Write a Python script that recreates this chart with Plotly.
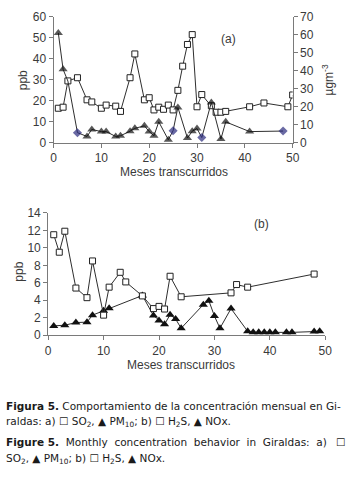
import plotly.graph_objects as go

# ---------------- data ----------------
# (a) SO2 (ppb, left axis) and PM10 (ug/m3, right axis)
a_so2_months = [1, 2, 3, 5, 7, 8, 10, 11, 13, 14, 16, 17, 19, 20, 21, 22, 23, 24, 25, 26,
                27, 28, 29, 30, 31, 33, 34, 35, 36, 41, 44, 49, 50]
a_so2_ppb = [16.5, 17, 29.5, 31, 20.5, 19.5, 16.5, 18, 17.5, 15, 31, 42.3, 20.5, 21.5, 15.7, 17,
             16, 18, 15.7, 25, 36.5, 46.8, 51.5, 17.2, 23, 17.7, 14.6, 14.6, 15, 17.2, 19, 17.2, 22.8]

a_pm10_months = [1, 2, 3, 5, 7, 8, 10, 11, 13, 14, 16, 17, 19, 20, 21, 22, 24, 25, 26, 28,
                 29, 30, 31, 33, 35, 36, 41, 48]
a_pm10_ugm3 = [61, 40.8, 34.3, 5.7, 3.6, 7.5, 6.3, 6.3, 3.6, 4, 6.5, 8.1, 9.5, 6.3, 4, 11.7,
               1.8, 6.8, 19.7, 2.7, 6.5, 8, 3, 22.5, 2.2, 11.7, 6.3, 6.6]
# t = triangle, d = diamond, h = hidden under a square
a_pm10_kind = ["t", "t", "h", "d", "t", "t", "t", "t", "t", "t", "t", "t", "t", "t", "t", "t",
               "t", "d", "t", "t", "t", "t", "d", "t", "t", "t", "t", "d"]

# (b) H2S and NOx (ppb)
b_h2s_months = [1, 2, 3, 5, 7, 8, 10, 11, 13, 14, 17, 19, 20, 21, 22, 24, 33, 34, 36, 48]
b_h2s_ppb = [11.5, 9.5, 11.9, 5.4, 4.3, 8.5, 2.3, 5.5, 7.2, 6.1, 4.5, 3.05, 3.3, 3.0, 6.75,
             4.4, 4.85, 5.8, 5.5, 7.0]
b_nox_months = [1, 3, 5, 7, 8, 10, 11, 17, 19, 20, 21, 22, 23, 24, 28, 29, 30, 31, 33, 36,
                37, 38, 39, 40, 41, 43, 44, 48, 49]
b_nox_ppb = [1.07, 1.15, 1.45, 1.5, 2.3, 2.8, 3.1, 4.55, 2.25, 1.7, 1.25, 2.35, 1.85, 0.8, 3.5,
             3.95, 2.2, 0.8, 3.05, 0.45, 0.33, 0.33, 0.33, 0.33, 0.33, 0.35, 0.33, 0.42, 0.45]

x_ticks = [0, 10, 20, 30, 40, 50]

# ---------------- style ----------------
W, H = 357, 485
TXT = "#3a3a3a"
AX = "#7a7a7a"
LINE = "#2e2e2e"
NAVY = "#2b2b7e"
FONT = "Liberation Sans, Arial, sans-serif"


def px(x):
    return x / W


def py(y):
    return 1 - y / H


sym = {"t": "triangle-up", "d": "diamond", "h": "triangle-up"}
col = {"t": "#111111", "d": NAVY, "h": "#111111"}
siz = {"t": 8, "d": 7, "h": 0}

fig = go.Figure()

# (a) PM10 triangles (right axis)
fig.add_trace(go.Scatter(
    x=a_pm10_months, y=a_pm10_ugm3, xaxis="x", yaxis="y2", mode="lines+markers",
    line=dict(color=LINE, width=1),
    marker=dict(symbol=[sym[k] for k in a_pm10_kind], color=[col[k] for k in a_pm10_kind],
                size=[siz[k] for k in a_pm10_kind], line=dict(width=0)),
    showlegend=False))
# (a) SO2 squares (left axis)
fig.add_trace(go.Scatter(
    x=a_so2_months, y=a_so2_ppb, xaxis="x", yaxis="y", mode="lines+markers",
    line=dict(color=LINE, width=1),
    marker=dict(symbol="square", size=6, color="white", line=dict(color="#222222", width=1)),
    showlegend=False))

# (b) NOx triangles
fig.add_trace(go.Scatter(
    x=b_nox_months, y=b_nox_ppb, xaxis="x3", yaxis="y3", mode="lines+markers",
    line=dict(color=LINE, width=1),
    marker=dict(symbol="triangle-up", size=8, color="#111111", line=dict(width=0)),
    showlegend=False))
# (b) H2S squares
fig.add_trace(go.Scatter(
    x=b_h2s_months, y=b_h2s_ppb, xaxis="x3", yaxis="y3", mode="lines+markers",
    line=dict(color=LINE, width=1),
    marker=dict(symbol="square", size=6, color="white", line=dict(color="#222222", width=1)),
    showlegend=False))

tickfont = dict(family=FONT, size=12, color=TXT)
axis_common = dict(showgrid=False, zeroline=False, showline=True, linecolor=AX, linewidth=1,
                   ticks="outside", ticklen=4, tickcolor=AX, tickfont=tickfont)

fig.update_layout(
    width=W, height=H, margin=dict(l=0, r=0, t=0, b=0),
    paper_bgcolor="white", plot_bgcolor="white",
    xaxis=dict(domain=[px(52), px(298)], range=[0, 50], tickvals=x_ticks, anchor="y", **axis_common),
    yaxis=dict(domain=[py(140), py(10)], range=[0, 60], dtick=10, anchor="x", **axis_common),
    yaxis2=dict(domain=[py(140), py(10)], range=[0, 70], dtick=10, overlaying="y", side="right",
                anchor="x", **axis_common),
    xaxis3=dict(domain=[px(46.5), px(331.5)], range=[0, 50], tickvals=x_ticks, anchor="y3", **axis_common),
    yaxis3=dict(domain=[py(338), py(212)], range=[0, 14], dtick=2, anchor="x3", **axis_common),
)

ann = []


def add_text(text, x, y, size=12, angle=0, xanchor="center", color=TXT, family=FONT):
    ann.append(dict(text=text, x=px(x), y=py(y), xref="paper", yref="paper", showarrow=False,
                    xanchor=xanchor, yanchor="middle", textangle=angle,
                    font=dict(family=family, size=size, color=color)))


add_text("ppb", 20, 75, angle=-90)
add_text("µgm<sup>-3</sup>", 334, 75, angle=-90)
add_text("(a)", 232, 33)
add_text("Meses transcurridos", 176, 170)
add_text("ppb", 17, 273, angle=-90)
add_text("(b)", 266, 223)
add_text("Meses transcurridos", 183, 369)

CAP = "DejaVu Sans, sans-serif"
CC = "#1a1a1a"
G = "\u00a0 "  # widened word gap for the justified line
add_text("<b>Figura 5.</b> Comportamiento de la concentración mensual en Gi-", 1, 411, size=10.5,
         xanchor="left", color=CC, family=CAP)
add_text("raldas: a) ☐ SO<sub>2</sub>, ▲ PM<sub>10</sub>; b) ☐ H<sub>2</sub>S, ▲ NOx.", 1, 427,
         size=10.5, xanchor="left", color=CC, family=CAP)
add_text("<b>Figure" + "\u00a0" + "5.</b>" + G + "Monthly" + G + "concentration" + G + "behavior" + G
         + "in" + G + "Giraldas:" + G + "a)", 1, 448, size=10.5, xanchor="left", color=CC, family=CAP)
add_text("☐", 354, 448, size=10.5, xanchor="right", color=CC, family=CAP)
add_text("SO<sub>2</sub>, ▲ PM<sub>10</sub>; b) ☐ H<sub>2</sub>S, ▲ NOx.", 1, 465, size=10.5,
         xanchor="left", color=CC, family=CAP)

fig.update_layout(annotations=ann)
fig.write_html("out.html", config={"displayModeBar": False},
               post_script="document.body.style.margin='0';")
